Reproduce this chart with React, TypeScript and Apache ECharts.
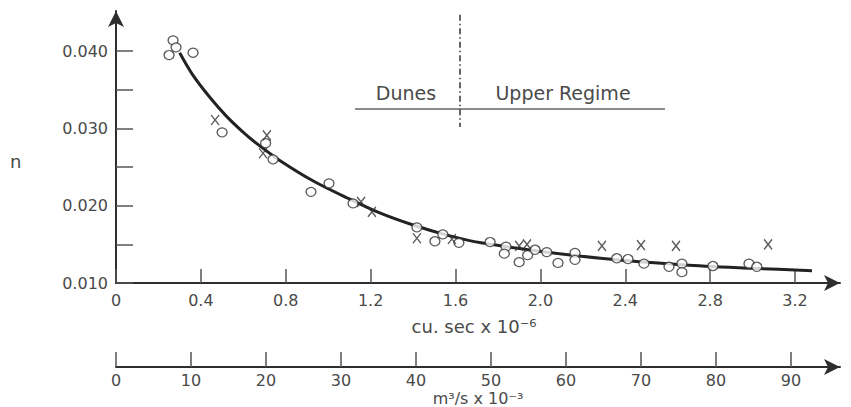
import React, { useEffect, useRef } from "react";
import * as echarts from "echarts";

const circleX = [0.269, 0.283, 0.25, 0.363, 0.5, 0.705, 0.74, 0.919, 1.004, 1.117, 1.418, 1.503, 1.54, 1.616, 1.763, 1.838, 1.83, 1.9, 1.94, 1.975, 2.03, 2.083, 2.163, 2.163, 2.36, 2.413, 2.488, 2.606, 2.667, 2.667, 2.813, 2.983, 3.02];
const circleY = [0.0414, 0.0405, 0.0395, 0.0398, 0.0295, 0.0281, 0.026, 0.0218, 0.0229, 0.0203, 0.0172, 0.0154, 0.0163, 0.0152, 0.0153, 0.0147, 0.0138, 0.0127, 0.0136, 0.0143, 0.014, 0.0126, 0.0139, 0.013, 0.0132, 0.0131, 0.0125, 0.0121, 0.0125, 0.0114, 0.0122, 0.0125, 0.0121];
const crossX = [0.467, 0.711, 0.693, 1.155, 1.206, 1.418, 1.583, 1.9, 1.937, 2.29, 2.474, 2.639, 3.073];
const crossY = [0.0311, 0.0291, 0.0268, 0.0205, 0.0192, 0.0158, 0.0157, 0.0148, 0.015, 0.0148, 0.0149, 0.0148, 0.015];
// Fitted curve
const curveX = [0.3, 0.36, 0.44, 0.52, 0.6, 0.67, 0.77, 0.93, 1.09, 1.24, 1.4, 1.56, 1.72, 2.09, 2.4, 2.7, 3.0, 3.28];
const curveY = [0.0398, 0.037, 0.0341, 0.0316, 0.0295, 0.0279, 0.0259, 0.0232, 0.021, 0.0191, 0.0175, 0.0162, 0.0152, 0.0138, 0.0129, 0.0123, 0.0119, 0.0116];

// Axis ticks / labels
const xTicks = [0, 0.4, 0.8, 1.2, 1.6, 2.0, 2.4, 2.8, 3.2];
const xTickLabels = ["0", "0.4", "0.8", "1.2", "1.6", "2.0", "2.4", "2.8", "3.2"];
const yTicks = [0.01, 0.015, 0.02, 0.025, 0.03, 0.035, 0.04];
const yLabelTicks = [0.01, 0.02, 0.03, 0.04];
const metricTicks = [0, 10, 20, 30, 40, 50, 60, 70, 80, 90];

// Regime annotation (data coordinates)
const regimeBoundaryX = 1.621;
const regimeLineY = 0.0326;
const regimeLineFrom = 1.126;
const regimeLineTo = 2.587;
const regimeBoundaryTop = 0.0447;
const regimeBoundaryBottom = 0.0302;

const FONT = "DejaVu Sans";
const TXT = "#4a4a4a";
const AX = "#2e2e2e";

export default function App() {
  const ref = useRef<HTMLDivElement>(null);
  useEffect(() => {
    if (!ref.current) return;
    const chart = echarts.init(ref.current, undefined, { renderer: "svg" });
    const fmtX = (v: number) => {
      const i = xTicks.findIndex((t) => Math.abs(t - v) < 1e-6);
      return i >= 0 ? xTickLabels[i] : "";
    };
    chart.setOption({
      animation: false,
      backgroundColor: "#fff",
      grid: [
        { left: 116, right: 11, top: 11, bottom: 124, containLabel: false, outerBoundsMode: "none" },
        { left: 116, right: 11, top: 366, height: 1, containLabel: false, outerBoundsMode: "none" },
      ],
      xAxis: [
        {
          type: "value",
          gridIndex: 0,
          min: 0,
          max: 3.412,
          splitLine: { show: false },
          axisLine: { show: true, onZero: false, symbol: ["none", "arrow"], symbolSize: [12, 16], lineStyle: { color: AX, width: 2 } },
          axisTick: { show: true, inside: true, length: 14, customValues: xTicks, lineStyle: { color: "#555", width: 1.5 } },
          axisLabel: { show: true, margin: 9, customValues: xTicks, formatter: fmtX, color: TXT, fontFamily: FONT, fontSize: 16 },
        },
        {
          type: "value",
          gridIndex: 1,
          position: "bottom",
          min: 0,
          max: 96.53,
          splitLine: { show: false },
          axisLine: { show: true, onZero: false, symbol: ["none", "arrow"], symbolSize: [12, 16], lineStyle: { color: AX, width: 2 } },
          axisTick: { show: true, inside: true, length: 15, customValues: metricTicks, lineStyle: { color: "#555", width: 1.5 } },
          axisLabel: { show: true, margin: 5, customValues: metricTicks, color: TXT, fontFamily: FONT, fontSize: 16, lineHeight: 16 },
        },
      ],
      yAxis: [
        {
          type: "value",
          gridIndex: 0,
          min: 0.01,
          max: 0.0452,
          splitLine: { show: false },
          axisLine: { show: true, onZero: false, symbol: ["none", "arrow"], symbolSize: [12, 16], lineStyle: { color: AX, width: 2 } },
          axisTick: { show: true, inside: true, length: 17, customValues: yTicks, lineStyle: { color: "#555", width: 1.5 } },
          axisLabel: { show: true, margin: 8, customValues: yLabelTicks, formatter: (v: number) => v.toFixed(3), color: TXT, fontFamily: FONT, fontSize: 16 },
        },
        { type: "value", gridIndex: 1, show: false, min: 0, max: 1 },
      ],
      series: [
        {
          type: "line",
          xAxisIndex: 0,
          yAxisIndex: 0,
          data: curveX.map((x, i) => [x, curveY[i]]),
          smooth: 0.3,
          showSymbol: false,
          lineStyle: { color: "#222", width: 3 },
          markLine: {
            silent: true,
            symbol: ["none", "none"],
            label: { show: false },
            data: [
              [
                { coord: [regimeLineFrom, regimeLineY], lineStyle: { color: "#666", width: 1.5, type: "solid" } },
                { coord: [regimeLineTo, regimeLineY] },
              ],
              [
                { coord: [regimeBoundaryX, regimeBoundaryTop], lineStyle: { color: "#333", width: 1.5, type: [6, 3, 1.5, 3] } },
                { coord: [regimeBoundaryX, regimeBoundaryBottom] },
              ],
            ],
          },
        },
        {
          type: "scatter",
          xAxisIndex: 0,
          yAxisIndex: 0,
          data: circleX.map((x, i) => [x, circleY[i]]),
          symbol: "circle",
          symbolSize: [10, 9],
          itemStyle: { color: "#fff", borderColor: "#333", borderWidth: 1.3 },
          z: 3,
        },
        {
          type: "scatter",
          xAxisIndex: 0,
          yAxisIndex: 0,
          data: crossX.map((x, i) => [x, crossY[i]]),
          symbol: "path://M0,0L10,12M10,0L0,12",
          symbolSize: [8, 10],
          itemStyle: { color: "none", borderColor: "#333", borderWidth: 1.4 },
          z: 3,
        },
      ],
      graphic: [
        { type: "text", left: 10, top: 152, style: { text: "n", fontFamily: FONT, fontSize: 18, fill: TXT } },
        { type: "text", x: 406, y: 93, style: { text: "Dunes", fontFamily: FONT, fontSize: 19, fill: TXT, align: "center", verticalAlign: "middle" } },
        { type: "text", x: 563, y: 93, style: { text: "Upper Regime", fontFamily: FONT, fontSize: 19, fill: TXT, align: "center", verticalAlign: "middle" } },
        { type: "text", x: 474, y: 326, style: { text: "cu. sec x 10⁻⁶", fontFamily: FONT, fontSize: 18, fill: TXT, align: "center", verticalAlign: "middle" } },
        { type: "text", x: 478, y: 398, style: { text: "m³/s x 10⁻³", fontFamily: FONT, fontSize: 16, lineHeight: 16, fill: TXT, align: "center", verticalAlign: "middle" } },
      ],
    });
    return () => chart.dispose();
  }, []);
  return <div ref={ref} style={{ width: 851, height: 407, position: "absolute", left: 0, top: 0 }} />;
}
